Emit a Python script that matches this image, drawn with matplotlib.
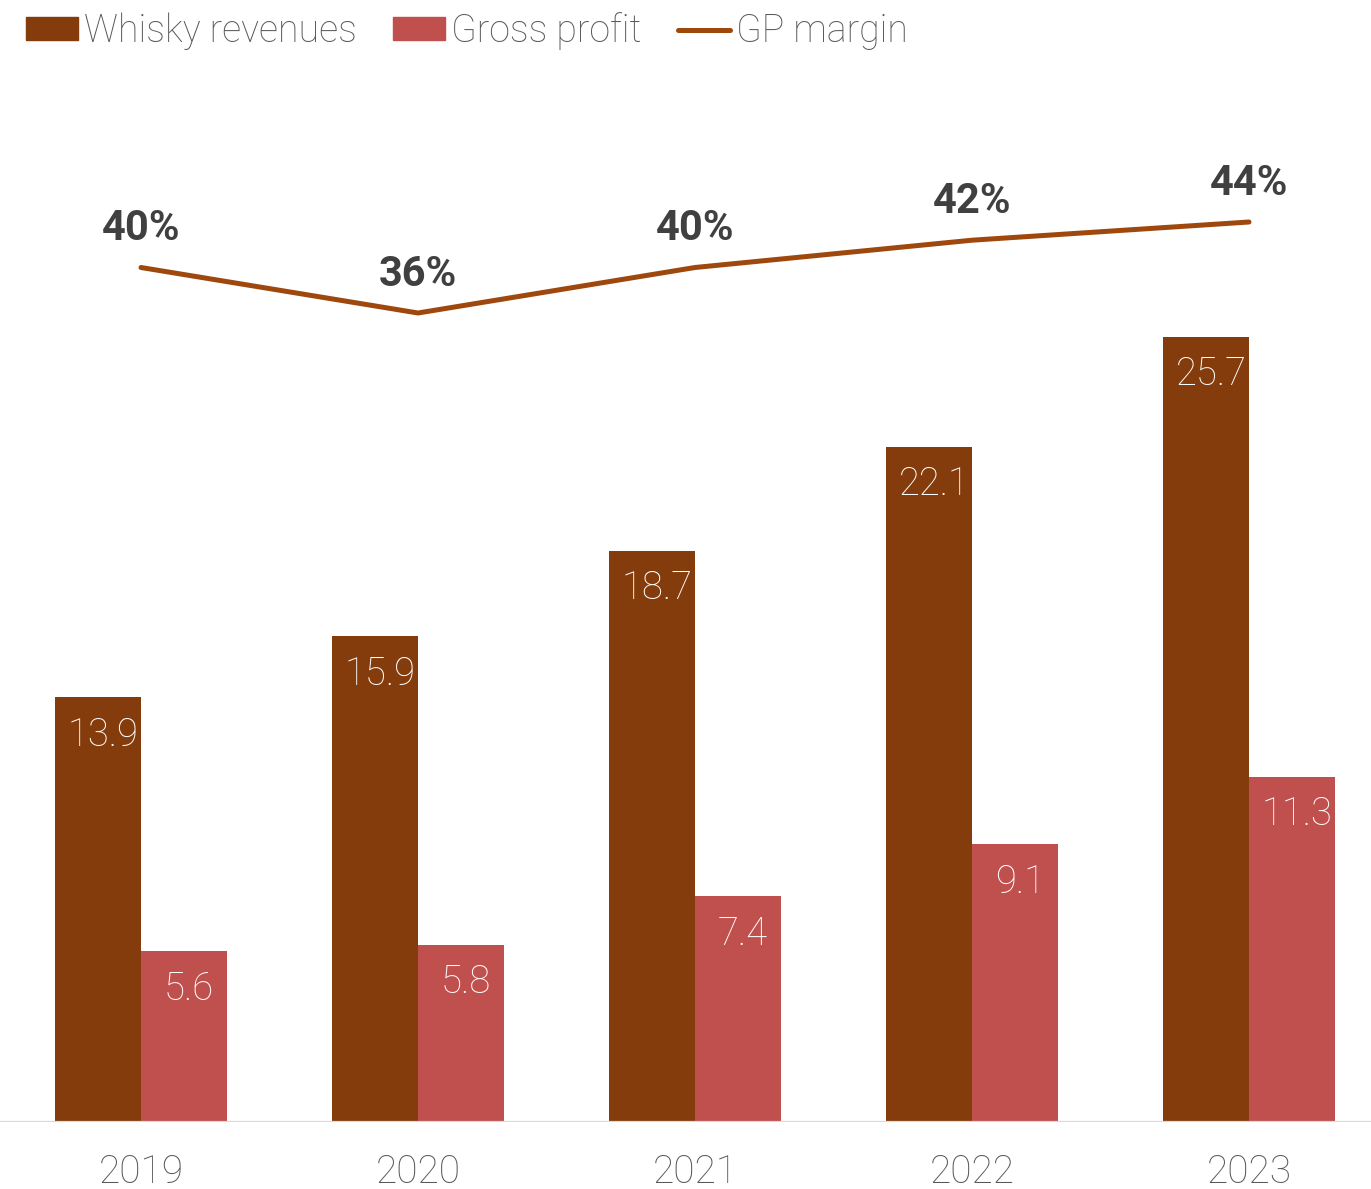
import matplotlib
matplotlib.use("Agg")
import matplotlib.pyplot as plt
from matplotlib.patches import Patch
from matplotlib.lines import Line2D

plt.rcParams["font.family"] = ["Roboto", "DejaVu Sans"]

# Data
years = ["2019", "2020", "2021", "2022", "2023"]
revenues = [13.9, 15.9, 18.7, 22.1, 25.7]
gross_profit = [5.6, 5.8, 7.4, 9.1, 11.3]
gp_margin = [40.0, 36.0, 40.0, 42.4, 44.0]

REV_COLOR = "#843C0C"
GP_COLOR = "#C0504D"
LINE_COLOR = "#9E480E"
TEXT_GRAY = "#595959"
LABEL_DARK = "#404040"

W, H = 1371, 1189
fig = plt.figure(figsize=(W / 100, H / 100), dpi=100)
base_px, top_px = 1122, 100
ax = fig.add_axes([0, (H - base_px) / H, 1, (base_px - top_px) / H])

x = list(range(len(years)))
bw = 0.31
ax.bar([i - bw / 2 for i in x], revenues, width=bw, color=REV_COLOR, zorder=2)
ax.bar([i + bw / 2 for i in x], gross_profit, width=bw, color=GP_COLOR, zorder=2)

ax.set_xlim(-141 / 277, (W - 141) / 277)
ax.set_ylim(0, (base_px - top_px) / 30.55)
for s in ax.spines.values():
    s.set_visible(False)
ax.axhline(0, color="#D9D9D9", lw=1.6, zorder=3)
ax.set_yticks([])
ax.set_xticks(x)
ax.set_xticklabels(years, fontsize=28, color=TEXT_GRAY, fontweight="light")
ax.tick_params(axis="x", length=0, pad=23)

# Value labels just inside the top of each bar
for i, v in enumerate(revenues):
    ax.annotate(f"{v:.1f}", (i - bw / 2, v), xytext=(3.5, -35), textcoords="offset points",
                ha="center", va="baseline", fontsize=27.5, color="white",
                fontweight="light", zorder=4)
for i, v in enumerate(gross_profit):
    ax.annotate(f"{v:.1f}", (i + bw / 2, v), xytext=(3.5, -35), textcoords="offset points",
                ha="center", va="baseline", fontsize=27.5, color="white",
                fontweight="light", zorder=4)

# Margin line on a secondary scale
ax2 = ax.twinx()
ax2.set_position(ax.get_position())
span = (base_px - top_px) / 11.375
lo = 36 - (base_px - 313) / 11.375
ax2.set_ylim(lo, lo + span)
ax2.set_yticks([])
for s in ax2.spines.values():
    s.set_visible(False)
ax2.plot(x, gp_margin, color=LINE_COLOR, lw=3.6, solid_capstyle="round", zorder=5)
for i, v in enumerate(gp_margin):
    ax2.annotate(f"{v:.0f}%", (i, v), xytext=(0, 19.5), textcoords="offset points",
                 ha="center", va="baseline", fontsize=30, fontweight="bold", color=LABEL_DARK)

handles = [Patch(color=REV_COLOR), Patch(color=GP_COLOR),
           Line2D([], [], color=LINE_COLOR, lw=3.6, solid_capstyle="round")]
fig.legend(handles, ["Whisky revenues", "Gross profit", "GP margin"],
           loc="center left", bbox_to_anchor=(26 / W, 1 - 31 / H), ncol=3, frameon=False,
           labelcolor=TEXT_GRAY, handlelength=1.39, handleheight=0.56,
           handletextpad=0.16, columnspacing=0.96, borderpad=0, borderaxespad=0,
           prop={"size": 27, "weight": "light"})

fig.savefig("out.png", dpi=100)
